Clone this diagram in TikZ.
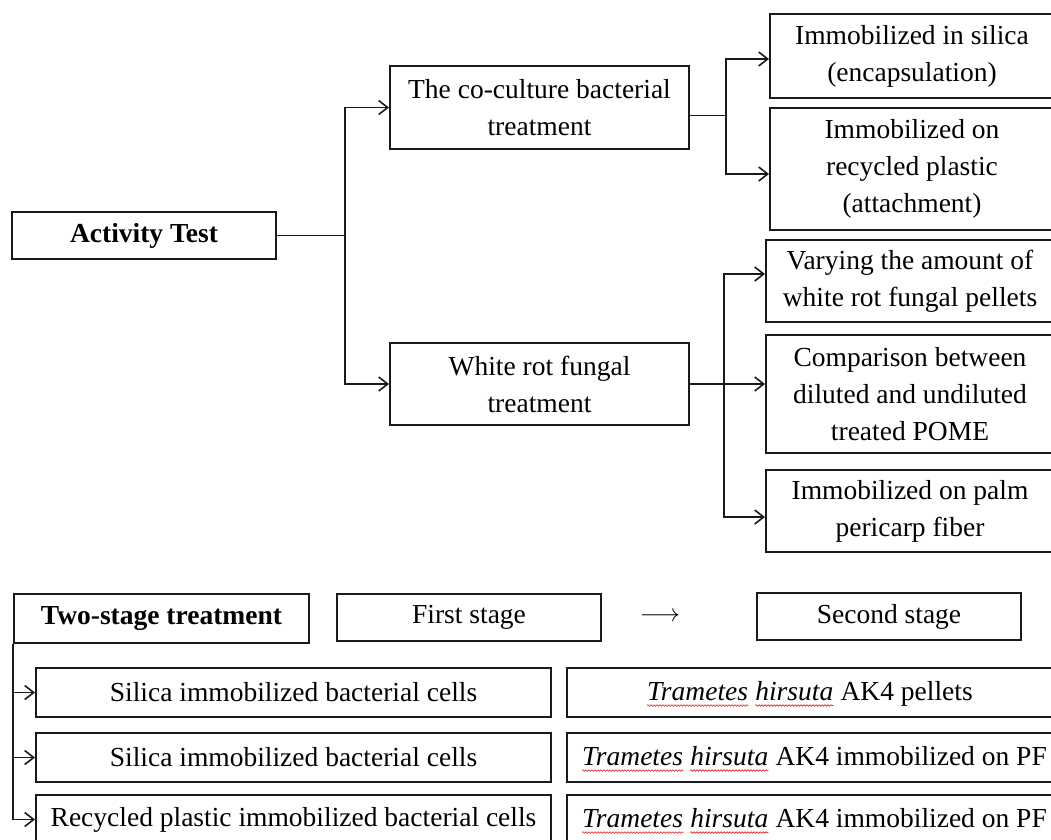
\documentclass[tikz,border=0pt]{standalone}
\usepackage{fontspec}
\setmainfont{Liberation Serif}
\usepackage{tikz}
\usetikzlibrary{arrows.meta,positioning,calc,decorations.pathmorphing}

\definecolor{atLine}{HTML}{1A1A1A}
\definecolor{atSpell}{HTML}{E02020}

\tikzset{
  atnode/.style={draw=atLine, line width=2pt, align=center, inner sep=0pt,
    font=\fontsize{27.5}{37}\selectfont},
  atbold/.style={atnode, font=\fontsize{27.5}{37}\selectfont\bfseries},
  rowbox/.style={atnode, minimum height=49pt},
  wordtext/.style={inner sep=0pt, font=\fontsize{27.5}{37}\selectfont},
  spell/.style={draw=atSpell, line width=0.6pt, decorate,
    decoration={snake, amplitude=0.8pt, segment length=3pt}},
  link/.style={line width=1.8pt, draw=atLine},
  flow/.style={link, -{Straight Barb[length=9pt,width=14pt,line width=1.6pt]}}
}

\begin{document}
\begin{tikzpicture}[x=1pt, y=-1pt]
  \clip (0,0) rectangle (1051,839);
  \node[atbold, anchor=north west, minimum width=264pt, minimum height=47pt] (act) at (11,211) {Activity Test};
  \node[atnode, anchor=north west, minimum width=299pt, minimum height=83pt] (cocult) at (389,65) {The co-culture bacterial\\treatment};
  \node[atnode, anchor=north west, minimum width=299pt, minimum height=82pt] (fungal) at (389,342) {White rot fungal\\treatment};
  \node[atnode, anchor=north west, minimum width=284pt, minimum height=84pt] (silica) at (769,13) {Immobilized in silica\\(encapsulation)};
  \node[atnode, anchor=north west, minimum width=284pt, minimum height=122pt] (plastic) at (769,107) {Immobilized on\\recycled plastic\\(attachment)};
  \node[atnode, anchor=north west, minimum width=288pt, minimum height=82pt] (amount) at (765,239) {Varying the amount of\\white rot fungal pellets};
  \node[atnode, anchor=north west, minimum width=288pt, minimum height=118pt] (dilute) at (765,334) {Comparison between\\diluted and undiluted\\treated POME};
  \node[atnode, anchor=north west, minimum width=288pt, minimum height=82pt] (fiber) at (765,469) {Immobilized on palm\\pericarp fiber};

  \node[atbold, anchor=north west, minimum width=295pt, minimum height=49pt] (twostage) at (13,593) {Two-stage treatment};
  \node[atnode, anchor=north west, minimum width=264pt, minimum height=47pt] (first) at (336,593) {First stage};
  \node[atnode, anchor=north west, minimum width=264pt, minimum height=47pt] (second) at (756,592) {Second stage};
  \node[font=\fontsize{31}{37}\selectfont] (stagearrow) at (660,617) {$\longrightarrow$};

  \node[rowbox, anchor=north west, minimum width=515pt] (bact1) at (35,667) {Silica immobilized bacterial cells};
  \node[rowbox, anchor=north west, minimum width=515pt] (bact2) at (35,732) {Silica immobilized bacterial cells};
  \node[rowbox, anchor=north west, minimum width=515pt] (bact3) at (35,794) {Recycled plastic immobilized bacterial cells};
  \foreach \r/\dx/\tail in {1/81/AK4 pellets, 2/16/AK4 immobilized on PF, 3/16/AK4 immobilized on PF}{
    \node[rowbox, minimum width=489pt, right=14pt of bact\r] (trame\r) {};
    \node[wordtext, anchor=base west] (genus\r) at ($(trame\r.west)+(\dx,8)$) {\textit{Trametes}};
    \node[wordtext, anchor=base west] (species\r) at ($(genus\r.base east)+(6.9,0)$) {\textit{hirsuta}};
    \node[wordtext, anchor=base west] (strain\r) at ($(species\r.base east)+(6.9,0)$) {\tail};
    \draw[spell] ($(genus\r.base west)+(0,5)$) -- ($(genus\r.base east)+(0,5)$);
    \draw[spell] ($(species\r.base west)+(0,5)$) -- ($(species\r.base east)+(0,5)$);
  }

  \draw[link] (act.east) -- ++(68,0) coordinate (actfork);
  \draw[flow] (actfork) |- (cocult.west);
  \draw[flow] (actfork) |- (fungal.west);
  \draw[link] ($(cocult.east)+(0,8)$) -- ++(36,0) coordinate (cofork);
  \draw[flow] (cofork) |- ($(silica.west)+(0,3)$);
  \draw[flow] (cofork) |- ($(plastic.west)+(0,5)$);
  \coordinate (fufork) at ($(fungal.east)+(34,0)$);
  \draw[flow] (fungal.east) -- (fungal.east -| dilute.west);
  \draw[flow] (fufork) |- ($(amount.west)+(0,-7)$);
  \draw[flow] (fufork) |- ($(fiber.west)+(0,6)$);
  \foreach \r in {bact1,bact2,bact3}{\draw[flow] (twostage.south west) |- (\r.west);}
\end{tikzpicture}
\end{document}
